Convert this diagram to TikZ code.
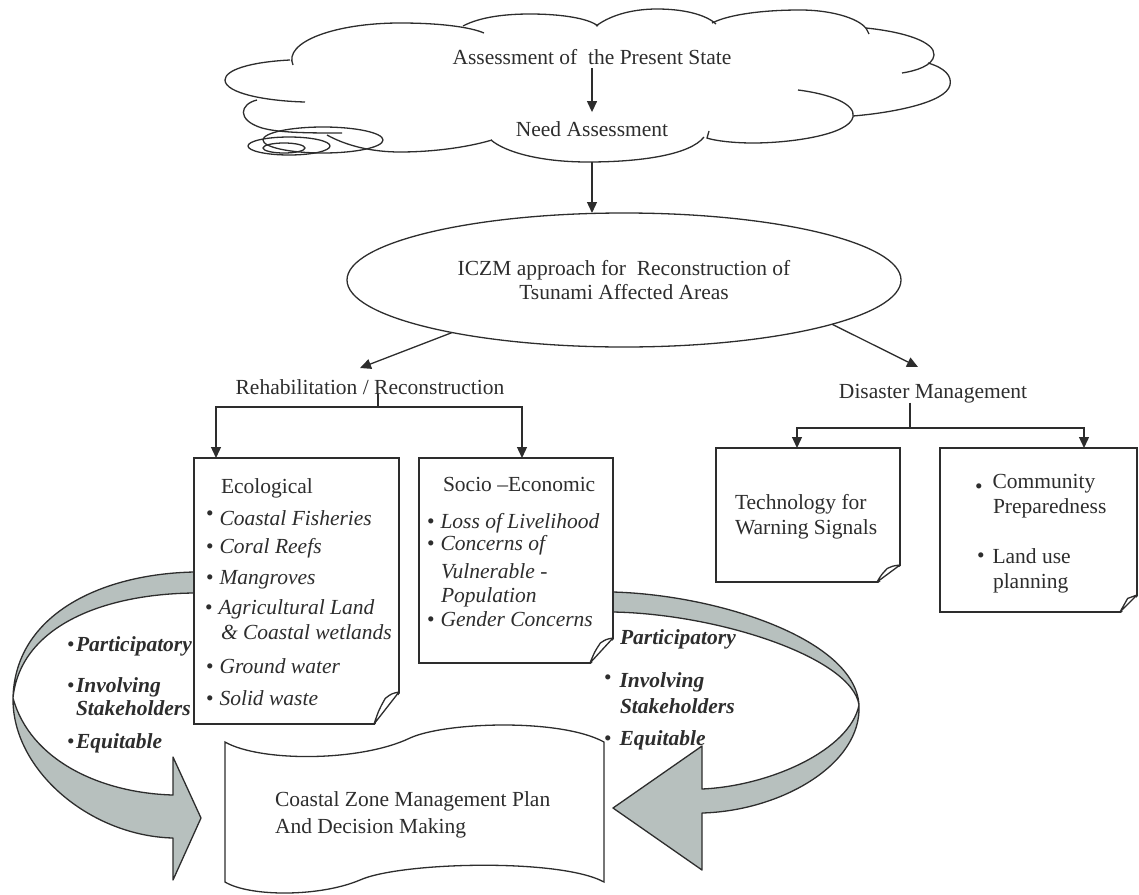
\documentclass[tikz,border=0pt]{standalone}
\usepackage{fontspec}
\setmainfont{Liberation Serif}
\usetikzlibrary{shapes.geometric,arrows.meta,calc}

\definecolor{ink}{RGB}{45,45,45}
\definecolor{ribbon}{RGB}{183,192,190}

\tikzset{
  every node/.style={font=\fontsize{21.5}{24}\selectfont, text=ink, inner sep=0pt, outer sep=0pt},
  line/.style={draw=ink, line width=1.3pt},
  arr/.style={line, -{Triangle[length=11pt,width=10pt]}},
  page/.style={line, fill=white, rectangle, anchor=north west},
  lst/.style={anchor=base west},
  mid/.style={anchor=base},
  band/.style={line, fill=ribbon, line join=round},
}

% folded lower-right corner of a page box: node, horizontal and vertical size
\newcommand\dogear[3]{%
  \fill[white] ($(#1.south east)+(2,-#3)$) -- ($(#1.south east)+(2,2)$) -- ($(#1.south east)+(-#2,2)$) -- cycle;
  \draw[line, line join=round] ($(#1.south east)+(0,-#3)$) -- ($(#1.south east)+(-#2,0)$)
     .. controls ($(#1.south east)+(-0.8*#2,-0.45*#3)$) .. ($(#1.south east)+(-0.55*#2,-0.8*#3)$)
     .. controls ($(#1.south east)+(-0.3*#2,-0.95*#3)$) .. cycle;
}
\newcommand\bul{•}

\begin{document}
\begin{tikzpicture}[x=1pt, y=-1pt]
\useasboundingbox (0,0) rectangle (1139,894);

% ---------- cloud ----------
\draw[line] (293,65) .. controls (283,42) and (335,23) .. (400,23) .. controls (440,23) and (470,27) .. (484,33);
\draw[line] (463,26) .. controls (480,17) and (505,14) .. (530,14) .. controls (560,14) and (588,18) .. (598,26);
\draw[line] (596,26) .. controls (612,14) and (635,9) .. (657,9) .. controls (682,9) and (705,14) .. (716,24);
\draw[line] (712,23) .. controls (730,14) and (765,10) .. (800,10) .. controls (835,10) and (862,20) .. (867,30) -- (869,34);
\draw[line] (866,28) .. controls (905,32) and (935,42) .. (934,55) .. controls (933,66) and (915,71) .. (902,73);
\draw[line] (928,63) .. controls (945,68) and (952,76) .. (950,85) .. controls (946,103) and (890,113) .. (853,116);
\draw[line] (798,90) .. controls (830,94) and (856,104) .. (853,117) .. controls (849,135) and (790,143) .. (753,143) .. controls (730,143) and (712,140) .. (707,138) -- (709,131);
\draw[line] (704,137) .. controls (690,155) and (640,162) .. (588,162) .. controls (540,162) and (505,152) .. (491,140);
\draw[line] (492,140) .. controls (465,148) and (430,152) .. (400,152) .. controls (370,152) and (345,145) .. (327,135);
\draw[line] (257,100) .. controls (240,104) and (236,120) .. (262,128) .. controls (280,133) and (310,133) .. (342,133);
\draw[line] (290,60) .. controls (250,62) and (225,70) .. (225,80) .. controls (225,93) and (265,101) .. (305,102);
\draw[line] (323,140) ellipse [x radius=60, y radius=13];
\draw[line] (289,146) ellipse [x radius=41, y radius=9];
\draw[line] (284,148) ellipse [x radius=21, y radius=5];

\node[mid] (assess) at (592,64) {Assessment of\ \ the Present State};
\node[mid] (need) at (592,136) {Need Assessment};
\draw[arr] ([yshift=-4pt]assess.south) -- ([yshift=9pt]need.north);

% ---------- central ellipse ----------
\node[ellipse, line, minimum width=554, minimum height=134, align=center] (iczm) at (624,280)
  {ICZM approach for\ \ Reconstruction of\\Tsunami Affected Areas};
\coordinate (cloudbase) at (592,162);
\draw[arr] (cloudbase) -- (cloudbase |- iczm.north);

% ---------- branch labels ----------
\node[mid] (rehab) at (370,394) {Rehabilitation / Reconstruction};
\node[mid] (dm) at (933,398) {Disaster Management};
\coordinate (rehabtip) at (360,368);
\coordinate (dmtip) at (918,367);
\draw[arr] (iczm.197) -- (rehabtip);
\draw[arr] (iczm.348) -- (dmtip);

% ---------- ribbon arrows ----------
\draw[band] (194,572) .. controls (100,574) and (15,615) .. (13,698)
  .. controls (12,770) and (90,836) .. (173,838) -- (173,880) -- (201,818) -- (173,757) -- (173,795)
  .. controls (100,793) and (30,760) .. (13,698)
  .. controls (20,628) and (100,594) .. (194,593) -- cycle;
\draw[band] (613,592) .. controls (720,595) and (855,640) .. (859,705)
  .. controls (862,765) and (780,811) .. (702,813) -- (702,870) -- (613,808) -- (702,746) -- (702,789)
  .. controls (770,786) and (850,750) .. (859,705)
  .. controls (852,658) and (720,614) .. (613,612) -- cycle;

% ---------- page boxes ----------
\node[page, minimum width=205, minimum height=266] (eco) at (194,458) {};
\node[page, minimum width=194, minimum height=205] (socio) at (419,458) {};
\node[page, minimum width=184, minimum height=134] (tech) at (716,448) {};
\node[page, minimum width=197, minimum height=164] (comm) at (940,448) {};
\dogear{eco}{25}{32}
\dogear{socio}{23}{25}
\dogear{tech}{23}{17}
\dogear{comm}{17}{17}

% branch connectors
\coordinate (rsplit) at (378,407);
\coordinate (dsplit) at (910,428);
\draw[line] (rehab.south -| rsplit) -- (rsplit);
\draw[arr] (rsplit) -| ([xshift=22pt]eco.north west);
\draw[arr] (rsplit) -| ([xshift=103pt]socio.north west);
\draw[line] (dm.south -| dsplit) -- (dsplit);
\draw[arr] (dsplit) -| ([xshift=81pt]tech.north west);
\draw[arr] (dsplit) -| ([xshift=144pt]comm.north west);

% ---------- box contents ----------
\node[lst] (e0) at (221,493) {Ecological};
\node[lst] (e1) at (206,525) {\raisebox{5pt}{\bul}\hspace{6pt}\textit{Coastal Fisheries}};
\node[lst] (e2) at (206,553) {\bul\hspace{6pt}\textit{Coral Reefs}};
\node[lst] (e3) at (206,584) {\bul\hspace{6pt}\textit{Mangroves}};
\node[lst] (e4) at (205,614) {\bul\hspace{6pt}\textit{Agricultural Land}};
\node[lst] (e5) at (221,639) {\textit{\& Coastal wetlands}};
\node[lst] (e6) at (206,673) {\bul\hspace{6pt}\textit{Ground water}};
\node[lst] (e7) at (206,705) {\bul\hspace{6pt}\textit{Solid waste}};

\node[lst] (s0) at (443,491) {Socio –Economic};
\node[lst] (s1) at (427,528) {\bul\hspace{6pt}\textit{Loss of Livelihood}};
\node[lst] (s2) at (427,550) {\bul\hspace{6pt}\textit{Concerns of}};
\node[lst] (s3) at (441,578) {\textit{Vulnerable -}};
\node[lst] (s4) at (441,602) {\textit{Population}};
\node[lst] (s5) at (427,626) {\bul\hspace{6pt}\textit{Gender Concerns}};

\node[lst] (t1) at (735,509) {Technology for};
\node[lst] (t2) at (735,534) {Warning Signals};

\node[lst] (c1) at (975,488) {\raisebox{-5pt}{\bul}\hspace{10pt}Community};
\node[lst] (c2) at (993,513) {Preparedness};
\node[lst] (c3) at (977,563) {\raisebox{1pt}{\bul}\hspace{8pt}Land use};
\node[lst] (c4) at (993,588) {planning};

% ---------- principle lists ----------
\node[lst] (lp) at (67,651) {\bul\hspace{1.5pt}\textbf{\textit{Participatory}}};
\node[lst] (li) at (67,692) {\bul\hspace{1.5pt}\textbf{\textit{Involving}}};
\node[lst] (ls) at (76,715) {\textbf{\textit{Stakeholders}}};
\node[lst] (le) at (67,748) {\bul\hspace{1.5pt}\textbf{\textit{Equitable}}};

\node[lst] (rp) at (620,644) {\textbf{\textit{Participatory}}};
\node[lst] (ri) at (604,687) {\raisebox{3pt}{\bul}\hspace{8pt}\textbf{\textit{Involving}}};
\node[lst] (rs) at (620,713) {\textbf{\textit{Stakeholders}}};
\node[lst] (re) at (604,745) {\bul\hspace{8pt}\textbf{\textit{Equitable}}};

% ---------- plan scroll ----------
\draw[line, fill=white] (225,742) .. controls (260,762) and (360,762) .. (410,738)
  .. controls (445,722) and (560,718) .. (604,742) -- (604,882)
  .. controls (560,858) and (400,862) .. (360,880)
  .. controls (320,897) and (250,897) .. (225,882) -- cycle;
\node[lst] (p1) at (275,806) {Coastal Zone Management Plan};
\node[lst] (p2) at (275,833) {And Decision Making};

\end{tikzpicture}
\end{document}
